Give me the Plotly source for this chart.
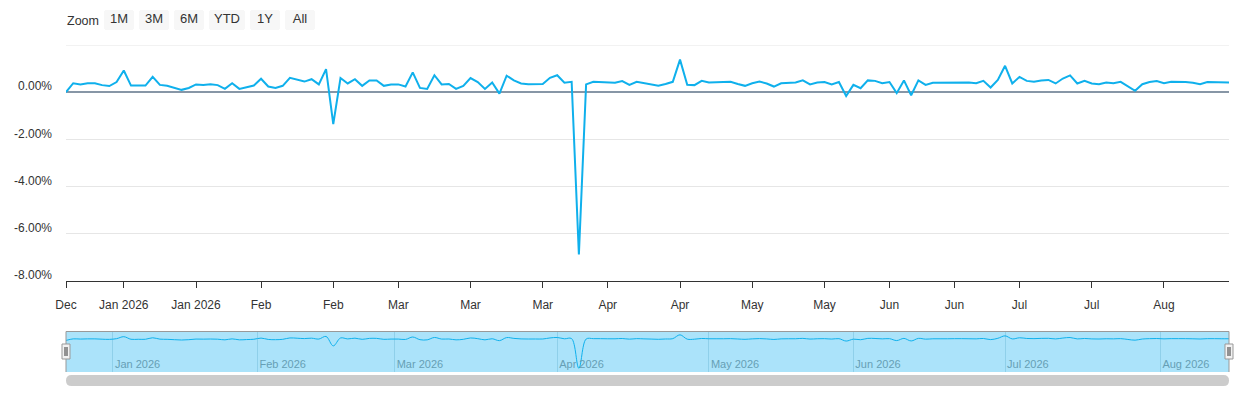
import pandas as pd
import plotly.graph_objects as go

# daily change in %, one value per trading day
holidays = ["2025-12-25", "2026-01-01", "2026-01-19", "2026-02-16",
            "2026-04-03", "2026-05-25", "2026-06-19", "2026-07-03"]
dates = pd.bdate_range("2025-12-22", "2026-08-14", freq="C", holidays=holidays)

values = [
    0.00, 0.38, 0.33, 0.38, 0.38, 0.30, 0.26, 0.43, 0.92, 0.28,
    0.28, 0.28, 0.65, 0.31, 0.27, 0.18, 0.10, 0.18, 0.33, 0.31,
    0.34, 0.30, 0.14, 0.38, 0.14, 0.21, 0.28, 0.57, 0.24, 0.18,
    0.27, 0.61, 0.54, 0.45, 0.55, 0.33, 0.98, -1.35, 0.60, 0.37,
    0.55, 0.27, 0.50, 0.50, 0.27, 0.33, 0.33, 0.24, 0.84, 0.18,
    0.14, 0.72, 0.33, 0.35, 0.14, 0.27, 0.60, 0.43, 0.14, 0.41,
    -0.06, 0.70, 0.50, 0.37, 0.34, 0.35, 0.35, 0.61, 0.72, 0.40,
    0.44, -6.88, 0.33, 0.44, 0.43, 0.40, 0.40, 0.47, 0.31, 0.44,
    0.38, 0.33, 0.27, 0.35, 0.44, 1.38, 0.31, 0.30, 0.48, 0.41,
    0.41, 0.41, 0.44, 0.35, 0.27, 0.38, 0.45, 0.37, 0.24, 0.38,
    0.41, 0.41, 0.50, 0.33, 0.41, 0.43, 0.33, 0.43, -0.16, 0.31,
    0.17, 0.50, 0.48, 0.38, 0.43, -0.04, 0.50, -0.13, 0.50, 0.31,
    0.40, 0.40, 0.40, 0.43, 0.43, 0.41, 0.38, 0.48, 0.20, 0.52,
    1.12, 0.37, 0.65, 0.48, 0.44, 0.50, 0.52, 0.37, 0.58, 0.71,
    0.37, 0.48, 0.37, 0.34, 0.41, 0.38, 0.44, 0.24, 0.06, 0.34,
    0.43, 0.47, 0.38, 0.44, 0.44, 0.43, 0.40, 0.34, 0.43, 0.43,
    0.41, 0.41,
]

tick_dates = ["2025-12-22", "2026-01-05", "2026-01-20", "2026-02-02", "2026-02-17",
              "2026-03-02", "2026-03-16", "2026-03-30", "2026-04-13", "2026-04-27",
              "2026-05-11", "2026-05-26", "2026-06-08", "2026-06-22", "2026-07-06",
              "2026-07-20", "2026-08-03"]
tick_text = ["Dec", "Jan 2026", "Jan 2026", "Feb", "Feb", "Mar", "Mar", "Mar", "Apr",
             "Apr", "May", "May", "Jun", "Jun", "Jul", "Jul", "Aug"]

y_ticks = [-8, -6, -4, -2, 0, 2]
y_text = ["-8.00%", "-6.00%", "-4.00%", "-2.00%", "0.00%", ""]

nav_months = ["2026-01-01", "2026-02-01", "2026-03-01", "2026-04-01",
              "2026-05-01", "2026-06-01", "2026-07-01", "2026-08-01"]
nav_text = ["Jan 2026", "Feb 2026", "Mar 2026", "Apr 2026",
            "May 2026", "Jun 2026", "Jul 2026", "Aug 2026"]

LINE = "#0fb0ec"
FONT = "Liberation Sans, Arial, sans-serif"

W, H = 1240, 400
PL, PR = 66, 1229


def fx(p):
    return (p - PL) / (PR - PL)


def fy(p):
    return 1 - p / H


def nav_pos(m):
    # month start in ordinal space: on the day itself, or half way after the last trading day
    m = pd.Timestamp(m)
    if m in dates:
        return m
    return dates[dates < m][-1] + pd.Timedelta(hours=12)


breaks = [dict(bounds=["sat", "mon"]), dict(values=holidays)]

fig = go.Figure()
fig.add_trace(go.Scatter(x=dates, y=values, mode="lines",
                         line=dict(color=LINE, width=2), name="Change",
                         hovertemplate="%{x|%b %d, %Y}<br>%{y:.2f}%<extra></extra>"))
fig.add_trace(go.Scatter(x=dates, y=values, mode="lines", xaxis="x2", yaxis="y2",
                         line=dict(color=LINE, width=1, shape="spline"),
                         hoverinfo="skip"))

shapes = []
# top grid line (at the edge of the y range)
shapes.append(dict(type="line", xref="x domain", yref="y", x0=0, x1=1, y0=y_ticks[-1], y1=y_ticks[-1],
                   line=dict(color="#e6e6e6", width=1), layer="below"))
# navigator background
shapes.append(dict(type="rect", xref="x2 domain", yref="y2 domain", x0=0, x1=1, y0=0, y1=1,
                   fillcolor="#abe3fa", line=dict(width=0), layer="below"))
# navigator outline
shapes.append(dict(type="path", xref="paper", yref="paper",
                   path=f"M {fx(66)},{fy(372)} L {fx(66)},{fy(331.5)} L {fx(1229)},{fy(331.5)} L {fx(1229)},{fy(372)}",
                   line=dict(color="#999999", width=1)))
# handles
for hx in (66, 1229):
    shapes.append(dict(type="rect", xref="paper", yref="paper",
                       x0=fx(hx - 4), x1=fx(hx + 4), y0=fy(359), y1=fy(344),
                       fillcolor="#f2f2f2", line=dict(color="#999999", width=1)))
    for dx in (-1, 1):
        shapes.append(dict(type="line", xref="paper", yref="paper",
                           x0=fx(hx + dx), x1=fx(hx + dx), y0=fy(356), y1=fy(347),
                           line=dict(color="#333333", width=1)))
# scrollbar
x0, x1, y0, y1, r = 66, 1229, 375, 386, 5.5
ym = (y0 + y1) / 2
shapes.append(dict(type="path", xref="paper", yref="paper",
                   path=(f"M {fx(x0 + r)},{fy(y0)} L {fx(x1 - r)},{fy(y0)} "
                         f"Q {fx(x1)},{fy(y0)} {fx(x1)},{fy(ym)} Q {fx(x1)},{fy(y1)} {fx(x1 - r)},{fy(y1)} "
                         f"L {fx(x0 + r)},{fy(y1)} Q {fx(x0)},{fy(y1)} {fx(x0)},{fy(ym)} "
                         f"Q {fx(x0)},{fy(y0)} {fx(x0 + r)},{fy(y0)} Z"),
                   fillcolor="#cccccc", line=dict(width=0)))

fig.update_layout(
    width=W, height=H,
    margin=dict(l=PL, r=W - PR, t=0, b=0, pad=0, autoexpand=False),
    paper_bgcolor="white", plot_bgcolor="white",
    font=dict(family=FONT, size=12, color="#333333"),
    showlegend=False,
    hovermode="x",
    shapes=shapes,
    annotations=[dict(text="Zoom", xref="paper", yref="paper", x=fx(65), y=fy(21),
                      xanchor="left", yanchor="middle", showarrow=False,
                      font=dict(size=12.5, color="#333333"))],
    xaxis=dict(
        domain=[0, 1], anchor="y", automargin=False,
        range=[dates[0], dates[-1]],
        rangebreaks=breaks,
        tickmode="array", tickvals=pd.to_datetime(tick_dates), ticktext=tick_text,
        ticks="outside", ticklen=6, tickcolor="#333333",
        ticklabelstandoff=7,
        showline=True, linecolor="#333333", linewidth=1,
        showgrid=False, zeroline=False,
        tickfont=dict(size=12, color="#333333"),
        rangeselector=dict(
            buttons=[
                dict(count=1, label="1M", step="month", stepmode="backward"),
                dict(count=3, label="3M", step="month", stepmode="backward"),
                dict(count=6, label="6M", step="month", stepmode="backward"),
                dict(count=1, label="YTD", step="year", stepmode="todate"),
                dict(count=1, label="1Y", step="year", stepmode="backward"),
                dict(label="All", step="all"),
            ],
            x=fx(104), y=fy(10), xanchor="left", yanchor="top",
            bgcolor="#f7f7f7", activecolor="#f7f7f7", borderwidth=0,
            font=dict(size=13, color="#333333"),
        ),
    ),
    yaxis=dict(
        domain=[fy(281), fy(45)], anchor="x", automargin=False,
        range=[-8, 2],
        tickmode="array", tickvals=y_ticks, ticktext=y_text,
        showgrid=True, gridcolor="#e6e6e6", gridwidth=1,
        zeroline=True, zerolinecolor="#8796a6", zerolinewidth=1.5,
        ticks="", ticklabelstandoff=13, ticklabelshift=-6,
        tickfont=dict(size=12, color="#333333"),
        fixedrange=True,
    ),
    xaxis2=dict(
        domain=[0, 1], anchor="y2", automargin=False,
        range=[dates[0], dates[-1]],
        rangebreaks=breaks,
        tickmode="array", tickvals=[nav_pos(m) for m in nav_months], ticktext=nav_text,
        ticklabelposition="inside right", ticklabelstandoff=-4, ticklabelshift=2,
        showgrid=True, gridcolor="#8fd0ea", gridwidth=1,
        ticks="", showline=False, zeroline=False,
        tickfont=dict(size=11, color="#669fb5"),
        fixedrange=True,
    ),
    yaxis2=dict(
        domain=[fy(372), fy(331.5)], anchor="x2", automargin=False,
        range=[-7.8, 2.2],
        visible=False, showgrid=False, zeroline=False,
        fixedrange=True,
    ),
)

# the page body keeps the browser's default margin otherwise
fig.write_html("out.html", config={"displayModeBar": False},
               post_script="document.body.style.margin = '0';")
